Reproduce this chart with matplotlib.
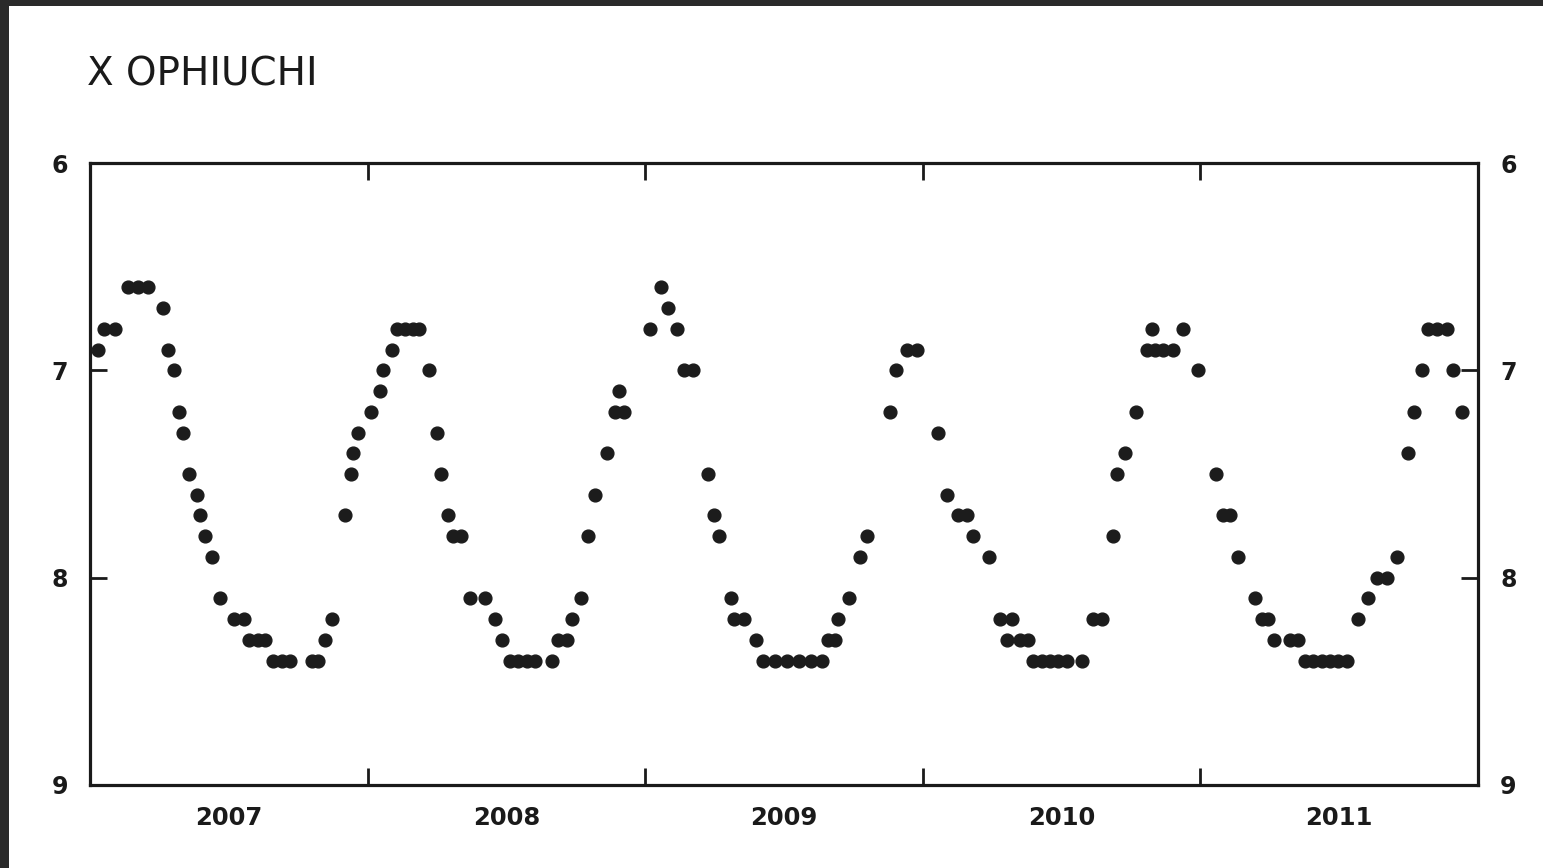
import matplotlib
matplotlib.use("Agg")
import matplotlib.pyplot as plt
from matplotlib.patches import Rectangle
from matplotlib.ticker import FixedLocator, NullFormatter

# Observation epochs (decimal year) and visual magnitudes of X Ophiuchi
epochs = [
    2007.028, 2007.052, 2007.090, 2007.137, 2007.173, 2007.209, 2007.262, 2007.282,
    2007.304, 2007.322, 2007.334, 2007.357, 2007.387, 2007.395, 2007.414, 2007.438,
    2007.468, 2007.519, 2007.556, 2007.573, 2007.604, 2007.630, 2007.660, 2007.691,
    2007.720, 2007.799, 2007.822, 2007.847, 2007.871, 2007.919, 2007.939, 2007.946,
    2007.967, 2008.011, 2008.045, 2008.057, 2008.087, 2008.105, 2008.135, 2008.162,
    2008.186, 2008.222, 2008.249, 2008.264, 2008.291, 2008.307, 2008.335, 2008.369,
    2008.423, 2008.459, 2008.483, 2008.513, 2008.543, 2008.573, 2008.603, 2008.663,
    2008.685, 2008.719, 2008.735, 2008.768, 2008.795, 2008.819, 2008.861, 2008.891,
    2008.907, 2008.925, 2009.017, 2009.057, 2009.081, 2009.113, 2009.140, 2009.173,
    2009.227, 2009.249, 2009.267, 2009.309, 2009.321, 2009.357, 2009.399, 2009.425,
    2009.468, 2009.510, 2009.554, 2009.596, 2009.636, 2009.660, 2009.684, 2009.696,
    2009.735, 2009.774, 2009.800, 2009.882, 2009.902, 2009.942, 2009.978, 2010.054,
    2010.088, 2010.128, 2010.158, 2010.182, 2010.240, 2010.278, 2010.302, 2010.320,
    2010.350, 2010.380, 2010.398, 2010.428, 2010.458, 2010.488, 2010.518, 2010.572,
    2010.612, 2010.644, 2010.684, 2010.698, 2010.728, 2010.767, 2010.807, 2010.825,
    2010.836, 2010.866, 2010.902, 2010.938, 2010.992, 2011.056, 2011.080, 2011.107,
    2011.137, 2011.197, 2011.221, 2011.245, 2011.266, 2011.323, 2011.353, 2011.377,
    2011.407, 2011.437, 2011.467, 2011.497, 2011.527, 2011.569, 2011.605, 2011.635,
    2011.673, 2011.709, 2011.749, 2011.769, 2011.797, 2011.821, 2011.851, 2011.887,
    2011.911, 2011.941,
]
magnitudes = [
    6.9, 6.8, 6.8, 6.6, 6.6, 6.6, 6.7, 6.9,
    7.0, 7.2, 7.3, 7.5, 7.6, 7.7, 7.8, 7.9,
    8.1, 8.2, 8.2, 8.3, 8.3, 8.3, 8.4, 8.4,
    8.4, 8.4, 8.4, 8.3, 8.2, 7.7, 7.5, 7.4,
    7.3, 7.2, 7.1, 7.0, 6.9, 6.8, 6.8, 6.8,
    6.8, 7.0, 7.3, 7.5, 7.7, 7.8, 7.8, 8.1,
    8.1, 8.2, 8.3, 8.4, 8.4, 8.4, 8.4, 8.4,
    8.3, 8.3, 8.2, 8.1, 7.8, 7.6, 7.4, 7.2,
    7.1, 7.2, 6.8, 6.6, 6.7, 6.8, 7.0, 7.0,
    7.5, 7.7, 7.8, 8.1, 8.2, 8.2, 8.3, 8.4,
    8.4, 8.4, 8.4, 8.4, 8.4, 8.3, 8.3, 8.2,
    8.1, 7.9, 7.8, 7.2, 7.0, 6.9, 6.9, 7.3,
    7.6, 7.7, 7.7, 7.8, 7.9, 8.2, 8.3, 8.2,
    8.3, 8.3, 8.4, 8.4, 8.4, 8.4, 8.4, 8.4,
    8.2, 8.2, 7.8, 7.5, 7.4, 7.2, 6.9, 6.8,
    6.9, 6.9, 6.9, 6.8, 7.0, 7.5, 7.7, 7.7,
    7.9, 8.1, 8.2, 8.2, 8.3, 8.3, 8.3, 8.4,
    8.4, 8.4, 8.4, 8.4, 8.4, 8.2, 8.1, 8.0,
    8.0, 7.9, 7.4, 7.2, 7.0, 6.8, 6.8, 6.8,
    7.0, 7.2,
]

year_bounds = [2007, 2008, 2009, 2010, 2011, 2012]
year_labels = ["2007", "2008", "2009", "2010", "2011"]
mag_ticks = [6, 7, 8, 9]
title_text = "X OPHIUCHI"

W, H, DPI = 1543, 868, 100
fig = plt.figure(figsize=(W / DPI, H / DPI), dpi=DPI, facecolor="white")

# dark scanner edge along top and left
fig.add_artist(Rectangle((0, 1 - 6 / H), 1, 6 / H, transform=fig.transFigure,
                         facecolor="#2a2a2a", edgecolor="none", zorder=0))
fig.add_artist(Rectangle((0, 0), 9 / W, 1, transform=fig.transFigure,
                         facecolor="#2a2a2a", edgecolor="none", zorder=0))

left, right, top, bottom = 90, 1478, 163, 785
ax = fig.add_axes([left / W, 1 - bottom / H, (right - left) / W, (bottom - top) / H])
ax.set_facecolor("white")

ax.plot(epochs, magnitudes, linestyle="none", marker="o", markersize=9.2,
        markerfacecolor="#1c1c1c", markeredgecolor="#1c1c1c", clip_on=False)

ax.set_xlim(year_bounds[0], year_bounds[-1])
ax.set_ylim(mag_ticks[-1], mag_ticks[0])

for sp in ax.spines.values():
    sp.set_linewidth(2.3)
    sp.set_color("#1a1a1a")

# year boundaries as inward ticks, year names centred in each interval
ax.xaxis.set_major_locator(FixedLocator(year_bounds[1:-1]))
ax.xaxis.set_major_formatter(NullFormatter())
mids = [y + 0.5 for y in year_bounds[:-1]]
ax.xaxis.set_minor_locator(FixedLocator(mids))
ax.set_xticklabels(year_labels, minor=True)
ax.tick_params(axis="x", which="major", direction="in", length=12, width=2.0,
               top=True, bottom=True, color="#1a1a1a")
ax.tick_params(axis="x", which="minor", length=0, pad=15, labelsize=17.5,
               labelcolor="#1a1a1a")

ax.set_yticks(mag_ticks)
ax.set_yticklabels([str(m) for m in mag_ticks])
ax.tick_params(axis="y", which="major", direction="in", length=12, width=2.0,
               left=True, right=True, labelleft=True, labelright=True,
               pad=16, labelsize=17, labelcolor="#1a1a1a", color="#1a1a1a")
for lbl in ax.get_yticklabels():
    lbl.set_fontweight("bold")
for lbl in ax.get_xticklabels(minor=True):
    lbl.set_fontweight("bold")

fig.text(87 / W, 1 - 75 / H, title_text, fontsize=28, color="#1a1a1a",
         ha="left", va="center", fontweight="normal")

fig.savefig("out.png", dpi=DPI, facecolor="white")
